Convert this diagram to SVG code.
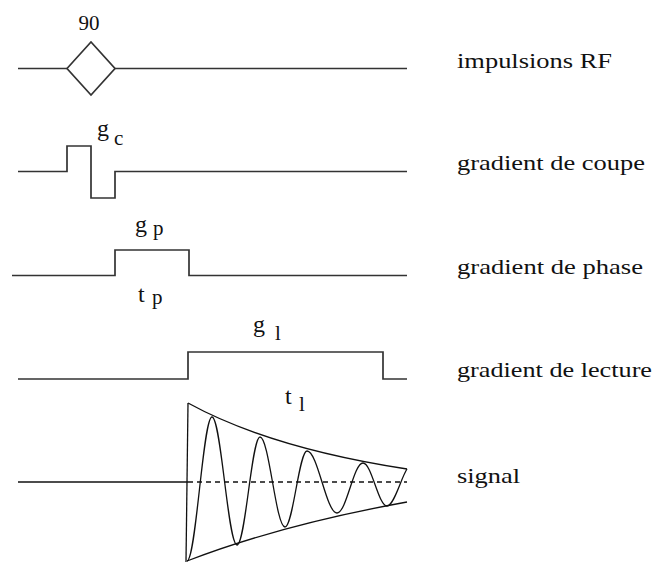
<svg xmlns="http://www.w3.org/2000/svg" width="657" height="562" viewBox="0 0 657 562">
<style>
.w{fill:none;stroke:#333;stroke-width:1.7;stroke-linejoin:miter}
.s{fill:none;stroke:#111;stroke-width:1.3}
text{font-family:"Liberation Serif","Times New Roman",serif;fill:#111}
.n{font-size:21px}
.t{font-size:24px}
.l{font-size:22px}
.sub{font-size:21px}
</style>
<rect width="657" height="562" fill="#fff"/>
<g id="rf">
<polyline class="w" points="18,68.5 67,68.5"/>
<polygon class="w" points="67,68.5 91,42 115,68.5 91,95"/>
<polyline class="w" points="115,68.5 407,68.5"/>
<text class="n" x="89" y="30" text-anchor="middle">90</text>
</g>
<g id="coupe">
<polyline class="w" points="18,171.5 67,171.5 67,146 91,146 91,198 115,198 115,171.5 407,171.5"/>
<text class="t" x="97" y="136">g</text>
<text class="sub" x="114" y="145">c</text>
</g>
<g id="phase">
<polyline class="w" points="12,275.5 115,275.5 115,250 189,250 189,275.5 407,275.5"/>
<text class="t" x="135" y="232">g</text>
<text class="sub" x="153" y="235">p</text>
<text class="t" x="138" y="302">t</text>
<text class="sub" x="152" y="304">p</text>
</g>
<g id="lecture">
<polyline class="w" points="18,379 188,379 188,352 383,352 383,379 407,379"/>
<text class="t" x="253" y="332">g</text>
<text class="sub" x="275" y="340">l</text>
<text class="t" x="285" y="404">t</text>
<text class="sub" x="299" y="411">l</text>
</g>
<g id="signal">
<line class="s" x1="18" y1="482" x2="188" y2="482"/>
<line class="s" x1="188" y1="482" x2="407" y2="482" stroke-dasharray="5,4"/>
<line class="s" x1="188" y1="403" x2="186" y2="562"/>
<path class="s" d="M188,403 Q270,448 407,469"/>
<path class="s" d="M187,561 Q280,525 407,502"/>
<path class="s" d="M187,561 C196.1,561 202.9,417 212,417 C221.1,417 227.9,545 237,545 C245.4,545 251.6,437 260,437 C269.1,437 275.9,527 285,527 C293,527 299,451 307,451 C317.9,451 326.1,513 337,513 C346.5,513 353.5,463 363,463 C371.7,463 378.3,506 387,506 C394,506 401,478 407,469"/>
</g>
<g id="labels">
<text class="l" x="457" y="67.5" textLength="155" lengthAdjust="spacingAndGlyphs">impulsions RF</text>
<text class="l" x="457" y="170" textLength="188" lengthAdjust="spacingAndGlyphs">gradient de coupe</text>
<text class="l" x="457" y="274" textLength="186" lengthAdjust="spacingAndGlyphs">gradient de phase</text>
<text class="l" x="457" y="377" textLength="195" lengthAdjust="spacingAndGlyphs">gradient de lecture</text>
<text class="l" x="457" y="483" textLength="63" lengthAdjust="spacingAndGlyphs">signal</text>
</g>
</svg>
